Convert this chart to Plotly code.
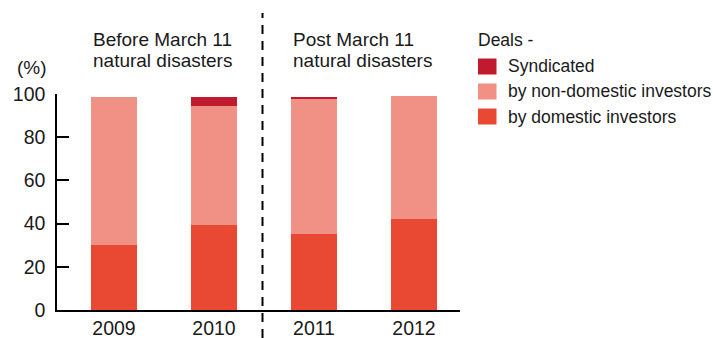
import plotly.graph_objects as go

years = ["2009", "2010", "2011", "2012"]
domestic = [30.2, 39.4, 35.2, 42.1]
non_domestic = [68.6, 55.2, 62.5, 57.1]
syndicated = [0.0, 4.2, 1.1, 0.0]

series_names = ["Syndicated", "by non-domestic investors", "by domestic investors"]
colors = {"Syndicated": "#BF1A2D", "by non-domestic investors": "#F19084", "by domestic investors": "#E94832"}
period_labels = [["Before March 11", "natural disasters"], ["Post March 11", "natural disasters"]]
y_ticks = [0, 20, 40, 60, 80, 100]

W, H = 713, 338
L, R, T, B = 57, 253, 94, 28
FONT = "Liberation Sans, Arial, Helvetica, sans-serif"

def px2paper_x(px):
    return (px - L) / (W - L - R)

def px2paper_y(py):
    return (H - B - py) / (H - T - B)

fig = go.Figure()
for name, vals in [("by domestic investors", domestic),
                   ("by non-domestic investors", non_domestic),
                   ("Syndicated", syndicated)]:
    fig.add_trace(go.Bar(x=years, y=vals, name=name, marker_color=colors[name],
                         marker_line_width=0, width=0.46, showlegend=False))

fig.update_layout(
    width=W, height=H, barmode="stack",
    margin=dict(l=L, r=R, t=T, b=B, pad=0, autoexpand=False),
    paper_bgcolor="white", plot_bgcolor="white",
    font=dict(family=FONT, color="#1a1a1a", size=18),
    xaxis=dict(range=[-0.57, 3.46], showgrid=False, zeroline=False, showline=True,
               linecolor="black", linewidth=1.5, ticks="", tickfont=dict(size=19.5),
               fixedrange=True, automargin=False),
    yaxis=dict(range=[0, 100], tickvals=y_ticks, showgrid=False, zeroline=False,
               showline=True, linecolor="black", linewidth=1.5, ticks="inside",
               ticklen=12, tickwidth=1.5, tickcolor="black", tickfont=dict(size=19.5),
               ticklabelstandoff=6, automargin=False),
)

# divider between periods
fig.add_shape(type="line", xref="x", yref="paper", x0=1.485, x1=1.485,
              y0=px2paper_y(338), y1=px2paper_y(13),
              line=dict(color="black", width=2, dash="9px,7px"))

# period labels
for lines, xpx in zip(period_labels, [91, 291]):
    for i, txt in enumerate(lines):
        fig.add_annotation(text=txt, xref="paper", yref="paper",
                           x=px2paper_x(xpx), y=px2paper_y(39 + 21.5 * i),
                           xanchor="left", yanchor="middle", showarrow=False,
                           font=dict(size=19))

# axis unit
fig.add_annotation(text="(%)", xref="paper", yref="paper", x=px2paper_x(49),
                   y=px2paper_y(68), xanchor="right", yanchor="middle",
                   showarrow=False, font=dict(size=19))

# custom legend
fig.add_annotation(text="Deals -", xref="paper", yref="paper", x=px2paper_x(476),
                   y=px2paper_y(40), xanchor="left", yanchor="middle",
                   showarrow=False, font=dict(size=17.5))
for i, name in enumerate(series_names):
    cy = 66.5 + 25 * i
    fig.add_shape(type="rect", xref="paper", yref="paper",
                  x0=px2paper_x(478), x1=px2paper_x(496.5),
                  y0=px2paper_y(cy - 8), y1=px2paper_y(cy + 8),
                  fillcolor=colors[name], line_width=0)
    fig.add_annotation(text=name, xref="paper", yref="paper", x=px2paper_x(506),
                       y=px2paper_y(cy), xanchor="left", yanchor="middle",
                       showarrow=False, font=dict(size=17.5))

fig.write_html("out.html", config={"displayModeBar": False})
